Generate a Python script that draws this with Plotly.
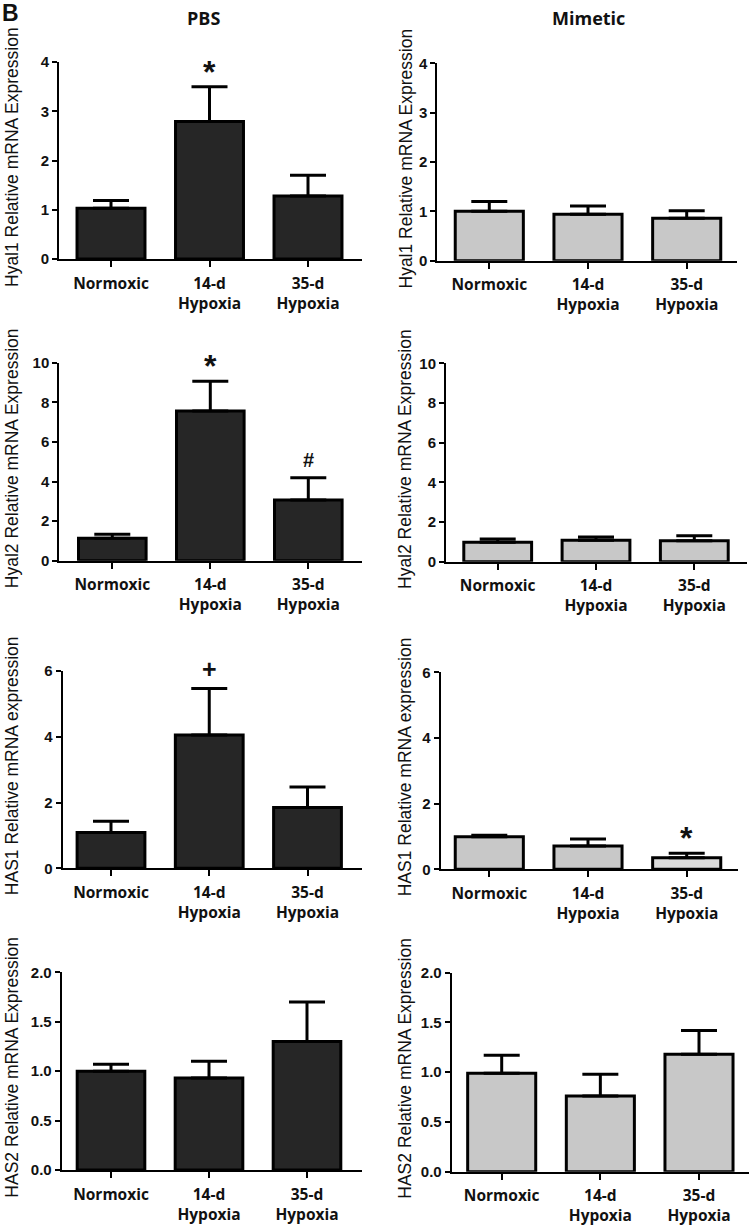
import plotly.graph_objects as go

W, H = 750, 1227

categories = ["Normoxic", "14-d<br>Hypoxia", "35-d<br>Hypoxia"]

pbs_hyal1_mean = [1.03, 2.79, 1.28]
pbs_hyal1_sem = [0.16, 0.71, 0.42]
mim_hyal1_mean = [1.00, 0.94, 0.86]
mim_hyal1_sem = [0.20, 0.17, 0.15]

pbs_hyal2_mean = [1.14, 7.56, 3.07]
pbs_hyal2_sem = [0.20, 1.50, 1.12]
mim_hyal2_mean = [0.98, 1.08, 1.05]
mim_hyal2_sem = [0.16, 0.17, 0.26]

pbs_has1_mean = [1.09, 4.05, 1.85]
pbs_has1_sem = [0.34, 1.42, 0.62]
mim_has1_mean = [0.99, 0.71, 0.35]
mim_has1_sem = [0.05, 0.21, 0.14]

pbs_has2_mean = [1.00, 0.93, 1.30]
pbs_has2_sem = [0.07, 0.17, 0.40]
mim_has2_mean = [0.99, 0.76, 1.18]
mim_has2_sem = [0.18, 0.22, 0.24]

pbs_hyal1_sig = ["", "*", ""]
pbs_hyal2_sig = ["", "*", "#"]
pbs_has1_sig = ["", "+", ""]
mim_has1_sig = ["", "", "*"]
no_sig = ["", "", ""]

ytitles = ["Hyal1 Relative mRNA Expression", "Hyal2 Relative mRNA Expression",
           "HAS1 Relative mRNA expression", "HAS2 Relative mRNA Expression"]
ymax = [4, 10, 6, 2.0]
ydtick = [1, 2, 2, 0.5]
ytickformat = ["d", "d", "d", ".1f"]

panels = [
    (0, 0, pbs_hyal1_mean, pbs_hyal1_sem, pbs_hyal1_sig),
    (0, 1, mim_hyal1_mean, mim_hyal1_sem, no_sig),
    (1, 0, pbs_hyal2_mean, pbs_hyal2_sem, pbs_hyal2_sig),
    (1, 1, mim_hyal2_mean, mim_hyal2_sem, no_sig),
    (2, 0, pbs_has1_mean, pbs_has1_sem, pbs_has1_sig),
    (2, 1, mim_has1_mean, mim_has1_sem, mim_has1_sig),
    (3, 0, pbs_has2_mean, pbs_has2_sem, no_sig),
    (3, 1, mim_has2_mean, mim_has2_sem, no_sig),
]

# layout geometry in pixels: left, right, top, bottom, first/last category centre
geo = {
    (0, 0): (59, 362, 62, 259, 111, 308),
    (1, 0): (59.3, 361.7, 362.7, 560.7, 112.3, 308.3),
    (2, 0): (62.7, 361.7, 671, 868.3, 111, 307.5),
    (3, 0): (61.7, 361.7, 972.3, 1170, 111, 307),
    (0, 1): (437.3, 736.7, 63.3, 260.7, 489.3, 686.7),
    (1, 1): (446, 746.7, 363.3, 561.7, 497.7, 694.3),
    (2, 1): (440.7, 737.7, 672.3, 869.3, 489.3, 686.7),
    (3, 1): (451.7, 748.5, 972.7, 1171.7, 501.7, 699),
}

fills = {0: "#262626", 1: "#c8c8c8"}
sig_sizes = {"*": 32, "#": 20, "+": 25}
sig_shift = {"*": -5, "#": 5, "+": 3}

FONT = "Liberation Sans, Arial, sans-serif"
TICKFONT = "Open Sans, Liberation Sans, sans-serif"

fig = go.Figure()
layout = {}
annotations = []

for i, (r, c, mean, sem, sig) in enumerate(panels):
    n = i + 1
    xa = "x" if n == 1 else f"x{n}"
    ya = "y" if n == 1 else f"y{n}"
    left, right, top, bottom, c0, c2 = geo[(r, c)]
    s = (c2 - c0) / 2.0
    colors = [fills[c]] * 3
    if (r, c) == (2, 1):
        colors = [fills[c], fills[c], "#dcdcdc"]
    fig.add_trace(go.Bar(
        x=categories, y=mean, xaxis=xa, yaxis=ya,
        marker=dict(color=colors, line=dict(color="black", width=3)),
        width=0.69,
        error_y=dict(type="data", array=sem, arrayminus=[0] * 3, symmetric=False,
                     color="black", thickness=3, width=18),
        showlegend=False, hoverinfo="skip",
    ))
    layout["xaxis" if n == 1 else f"xaxis{n}"] = dict(
        domain=[left / W, right / W],
        range=[(left - c0) / s, (right - c0) / s],
        anchor=ya, type="category", automargin=False,
        showline=True, linecolor="black", linewidth=2,
        ticks="outside", ticklen=6, tickwidth=2, tickcolor="black",
        ticklabelstandoff=3,
        tickfont=dict(family=TICKFONT, size=15.5, color="#111", weight=700),
        showgrid=False, zeroline=False, fixedrange=True,
    )
    layout["yaxis" if n == 1 else f"yaxis{n}"] = dict(
        domain=[1 - bottom / H, 1 - top / H],
        range=[0, ymax[r]], anchor=xa, automargin=False,
        dtick=ydtick[r], tick0=0, tickformat=ytickformat[r],
        showline=True, linecolor="black", linewidth=2,
        ticks="outside", ticklen=5, tickwidth=2, tickcolor="black",
        tickfont=dict(family=FONT, size=15, color="#111", weight=700),
        showgrid=False, zeroline=False, fixedrange=True,
    )
    tx = 12 if c == 0 else 405
    annotations.append(dict(
        text=ytitles[r], textangle=-90, xref="paper", yref="paper",
        x=tx / W, y=1 - ((top + bottom) / 2 - 3.5) / H,
        xanchor="center", yanchor="middle", showarrow=False,
        font=dict(family=FONT, size=17.5, color="#111"),
    ))
    for k in range(3):
        if sig[k]:
            annotations.append(dict(
                text=sig[k], xref=xa, yref=ya, x=categories[k], y=mean[k] + sem[k],
                xanchor="center", yanchor="bottom", yshift=sig_shift[sig[k]],
                showarrow=False,
                font=dict(family=FONT, size=sig_sizes[sig[k]], color="#111", weight=700),
            ))

annotations.append(dict(text="PBS", xref="paper", yref="paper", x=203 / W, y=1 - 18 / H,
                        xanchor="center", yanchor="middle", showarrow=False,
                        font=dict(family=TICKFONT, size=18, color="#111", weight=700)))
annotations.append(dict(text="Mimetic", xref="paper", yref="paper", x=588 / W, y=1 - 18 / H,
                        xanchor="center", yanchor="middle", showarrow=False,
                        font=dict(family=TICKFONT, size=18, color="#111", weight=700)))
annotations.append(dict(text="B", xref="paper", yref="paper", x=0, y=1 + 2 / H,
                        xanchor="left", yanchor="top", showarrow=False,
                        font=dict(family=FONT, size=23, color="#111", weight=700)))

fig.update_layout(
    template="none",
    width=W, height=H, autosize=False, margin=dict(l=0, r=0, t=0, b=0, pad=0, autoexpand=False),
    paper_bgcolor="white", plot_bgcolor="white",
    annotations=annotations, **layout,
)

fig.write_html("out.html",
               config={"displayModeBar": False},
               post_script="document.body.style.margin='0';document.body.style.padding='0';"
                           "document.documentElement.style.overflow='hidden';")
